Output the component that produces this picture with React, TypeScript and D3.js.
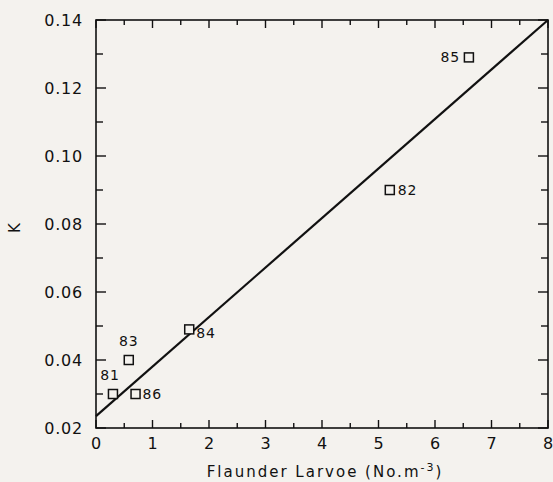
import React from "react";
import * as d3 from "d3";

const years = ["81", "83", "86", "84", "82", "85"];
const larvae = [0.3, 0.58, 0.7, 1.65, 5.2, 6.6];
const kValues = [0.03, 0.04, 0.03, 0.049, 0.09, 0.129];
const fitX = [0, 8];
const fitY = [0.0235, 0.14];
const xTicks = [0, 1, 2, 3, 4, 5, 6, 7, 8];
const yTicks = [0.02, 0.04, 0.06, 0.08, 0.1, 0.12, 0.14];

const W = 553, H = 482;
const L = 96, R = 548, T = 20, B = 428;

export default function App() {
  const x = d3.scaleLinear().domain([0, 8]).range([L, R]);
  const y = d3.scaleLinear().domain([0.02, 0.14]).range([B, T]);
  const minorX = d3.range(0.5, 8, 1);
  const minorY = d3.range(0.03, 0.14, 0.02);
  const line = d3.line<number>().x((_, i) => x(fitX[i])).y((_, i) => y(fitY[i]));
  const font = "'DejaVu Sans', sans-serif";
  const ink = "#111";
  const bg = "#f4f2ee";
  const labelPos: Record<string, [number, number, string]> = {
    "81": [-3, -14, "middle"],
    "83": [0, -14, "middle"],
    "86": [7, 5, "start"],
    "84": [7, 9, "start"],
    "82": [8, 5, "start"],
    "85": [-9, 5, "end"],
  };
  return (
    <svg width={W} height={H} style={{ position: "absolute", left: 0, top: 0, background: bg }}>
      <rect x={0} y={0} width={W} height={H} fill={bg} />
      <rect x={L} y={T} width={R - L} height={B - T} fill="none" stroke={ink} strokeWidth={1.6} />
      {xTicks.map((t) => (
        <g key={"xt" + t}>
          <line x1={x(t)} x2={x(t)} y1={B} y2={B - 8} stroke={ink} strokeWidth={1.4} />
          <line x1={x(t)} x2={x(t)} y1={T} y2={T + 8} stroke={ink} strokeWidth={1.4} />
          <text x={x(t)} y={B + 21} fontSize={16} fontFamily={font} textAnchor="middle" fill={ink}>{t}</text>
        </g>
      ))}
      {minorX.map((t) => (
        <g key={"xm" + t}>
          <line x1={x(t)} x2={x(t)} y1={B} y2={B - 5} stroke={ink} strokeWidth={1.4} />
          <line x1={x(t)} x2={x(t)} y1={T} y2={T + 5} stroke={ink} strokeWidth={1.4} />
        </g>
      ))}
      {yTicks.map((t) => (
        <g key={"yt" + t}>
          <line x1={L} x2={L + 10} y1={y(t)} y2={y(t)} stroke={ink} strokeWidth={1.4} />
          <line x1={R} x2={R - 10} y1={y(t)} y2={y(t)} stroke={ink} strokeWidth={1.4} />
          <text x={L - 13} y={y(t) + 6} fontSize={16} fontFamily={font} textAnchor="end" letterSpacing={0.8} fill={ink}>{t.toFixed(2)}</text>
        </g>
      ))}
      {minorY.map((t) => (
        <g key={"ym" + t}>
          <line x1={L} x2={L + 7} y1={y(t)} y2={y(t)} stroke={ink} strokeWidth={1.4} />
          <line x1={R} x2={R - 7} y1={y(t)} y2={y(t)} stroke={ink} strokeWidth={1.4} />
        </g>
      ))}
      <path d={line(fitX) || ""} fill="none" stroke={ink} strokeWidth={2.2} />
      {years.map((yr, i) => {
        const cx = x(larvae[i]), cy = y(kValues[i]);
        const [dx, dy, anchor] = labelPos[yr];
        return (
          <g key={yr}>
            <rect x={cx - 4.5} y={cy - 4.5} width={9} height={9} fill={bg} stroke={ink} strokeWidth={1.5} />
            <text x={cx + dx} y={cy + dy} fontSize={14} fontFamily={font} textAnchor={anchor} letterSpacing={0.8} fill={ink}>{yr}</text>
          </g>
        );
      })}
      <text x={20} y={228} fontSize={15} fontFamily={font} textAnchor="middle" fill={ink} transform="rotate(-90, 20, 228)">K</text>
      <text x={325} y={477} fontSize={15} fontFamily={font} textAnchor="middle" fill={ink} letterSpacing={2}>
        Flaunder Larvoe (No.m<tspan dy={-6} fontSize={11}>-3</tspan><tspan dy={6}>)</tspan>
      </text>
    </svg>
  );
}
